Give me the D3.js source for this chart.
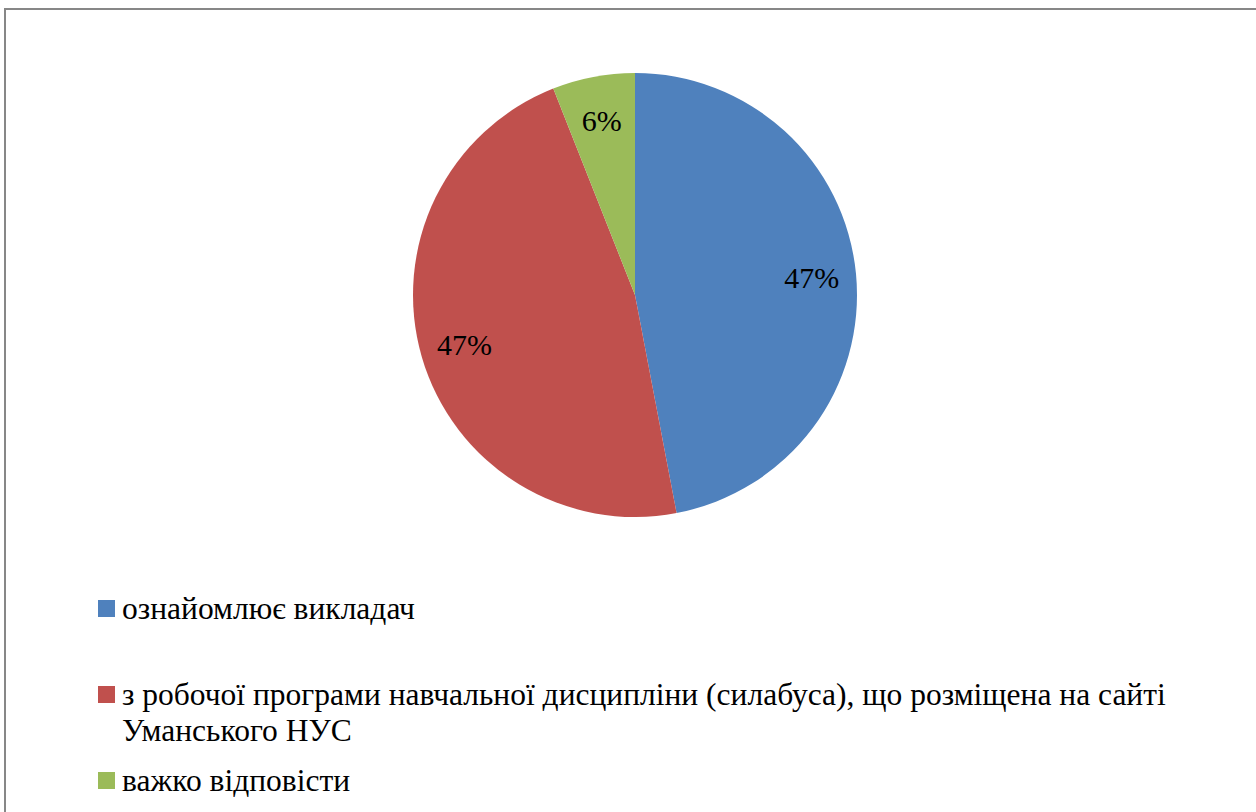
<!DOCTYPE html>
<html>
<head>
<meta charset="utf-8">
<script src="https://cdn.jsdelivr.net/npm/d3@7"></script>
</head>
<body style="margin:0;background:#fff">
<div id="chart" style="position:relative;width:1256px;height:812px;overflow:hidden">
<svg width="1256" height="812" style="position:absolute;left:0;top:0"></svg>
</div>
<script>
// chart data
var categories = [
  "ознайомлює викладач",
  "з робочої програми навчальної дисципліни (силабуса), що розміщена на сайті Уманського НУС",
  "важко відповісти"
];
var values = [47, 47, 6];
var percentLabels = ["47%", "47%", "6%"];
var legendLines = [
  ["ознайомлює викладач"],
  ["з робочої програми навчальної дисципліни (силабуса), що розміщена на сайті", "Уманського НУС"],
  ["важко відповісти"]
];
var colors = ["#4F81BD", "#C0504D", "#9BBB59"];

var cx = 635, cy = 295, radius = 222;

var chart = d3.select('#chart');
var svg = chart.select('svg');

// outer frame (runs off the bottom/right like the original)
svg.append('rect')
   .attr('x', 5).attr('y', 9)
   .attr('width', 1300).attr('height', 900)
   .attr('fill', 'none')
   .attr('stroke', '#878787')
   .attr('stroke-width', 2);

var pie = d3.pie().sort(null).value(d => d);
var arcs = pie(values);

var arc = d3.arc().innerRadius(0).outerRadius(radius);
var labelArc = d3.arc().innerRadius(radius * 0.8).outerRadius(radius * 0.8);

svg.selectAll('path')
  .data(arcs)
  .enter()
    .append('path')
    .attr('transform', `translate(${cx},${cy})`)
    .attr('d', arc)
    .attr('fill', (d, i) => colors[i]);

// percentage labels as html text, placed from the arc centroids
chart.selectAll('div.pct')
  .data(arcs)
  .enter()
    .append('div')
    .attr('class', 'pct')
    .style('position', 'absolute')
    .style('left', d => (cx + labelArc.centroid(d)[0] - 60) + 'px')
    .style('top', d => (cy + labelArc.centroid(d)[1] - 17) + 'px')
    .style('width', '120px')
    .style('text-align', 'center')
    .style('font-family', "'Liberation Serif', serif")
    .style('font-size', '30px')
    .style('line-height', '34px')
    .style('white-space', 'nowrap')
    .text((d, i) => percentLabels[i]);

// legend
var legendTop = [600, 686, 772]; // square tops per item

svg.selectAll('rect.key')
  .data(categories)
  .enter()
    .append('rect')
    .attr('class', 'key')
    .attr('x', 98)
    .attr('y', (d, i) => legendTop[i])
    .attr('width', 17).attr('height', 17)
    .attr('fill', (d, i) => colors[i]);

legendLines.forEach(function(lines, i) {
  lines.forEach(function(line, j) {
    chart.append('div')
      .style('position', 'absolute')
      .style('left', '122px')
      .style('top', (legendTop[i] - 9 + j * 36) + 'px')
      .style('font-family', "'Liberation Serif', serif")
      .style('font-size', '31.5px')
      .style('line-height', '36px')
      .style('white-space', 'nowrap')
      .text(line);
  });
});
</script>
</body>
</html>
